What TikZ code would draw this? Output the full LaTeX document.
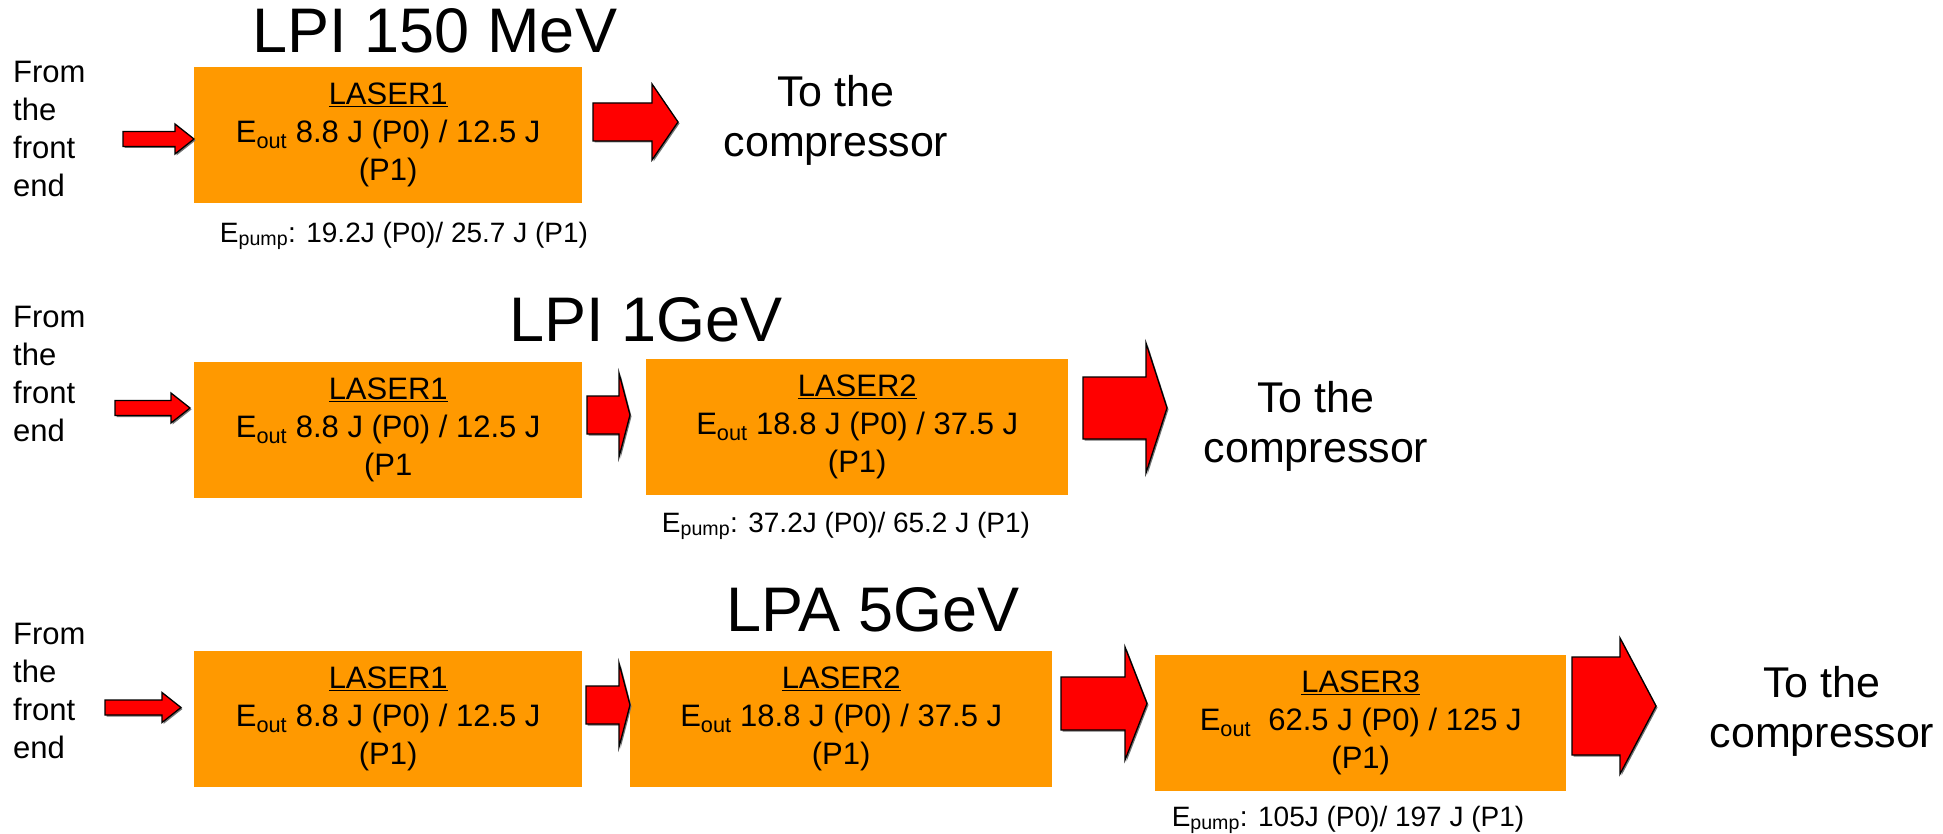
\documentclass[tikz,border=0pt]{standalone}
\usepackage{fontspec}
\setmainfont{Liberation Sans}
\definecolor{boxorange}{HTML}{FF9900}
\definecolor{arrred}{HTML}{FF0000}
% #1 x start, #2 head start, #3 tip, #4 y centre, #5 shaft half height, #6 head half height
\newcommand{\blockarrow}[6]{%
  \fill[arrshadow] ({#1+1.5},{#4-#5+1.5}) -- ({#2+1.5},{#4-#5+1.5}) -- ({#2+1.5},{#4-#6+1.5}) -- ({#3+1.5},{#4+1.5}) -- ({#2+1.5},{#4+#6+1.5}) -- ({#2+1.5},{#4+#5+1.5}) -- ({#1+1.5},{#4+#5+1.5}) -- cycle;
  \filldraw[blockarr] ({#1},{#4-#5}) -- ({#2},{#4-#5}) -- ({#2},{#4-#6}) -- ({#3},{#4}) -- ({#2},{#4+#6}) -- ({#2},{#4+#5}) -- ({#1},{#4+#5}) -- cycle;}
\begin{document}
\begin{tikzpicture}[x=1pt,y=-1pt,
  lbox/.style={fill=boxorange, draw=none, inner sep=0pt, anchor=north west, align=center,
    font=\fontsize{31}{38}\selectfont},
  blockarr/.style={fill=arrred, draw=black, line width=1.3pt, line join=miter},
  arrshadow/.style={fill=black!55},
  title/.style={inner sep=0pt, font=\fontsize{63}{70}\selectfont},
  fromtxt/.style={inner sep=0pt, anchor=west, align=left, font=\fontsize{31}{38}\selectfont},
  totxt/.style={inner sep=0pt, align=center, font=\fontsize{43}{50}\selectfont},
  pump/.style={inner sep=0pt, font=\fontsize{28}{32}\selectfont}]
\useasboundingbox (0,0) rectangle (1943,834);
\fill[white] (0,0) rectangle (1943,834);

% ---------- Row 1 : LPI 150 MeV ----------
\node[title] (t1) at (435,30.5) {LPI 150 MeV};
\node[fromtxt] (f1) at (13,129) {From\\the\\front\\end};
\node[lbox, minimum width=388pt, minimum height=136pt] (r1a) at (194,67)
  {\underline{LASER1}\\E\textsubscript{out} 8.8 J (P0) / 12.5 J\\(P1)};
\node[pump] (p1) at (404,236) {E\textsubscript{pump}: 19.2J (P0)/ 25.7 J (P1)};
\node[totxt] (c1) at (836,120) {To the\\compressor};
\blockarrow{123}{175}{194}{139}{7.5}{15}
\blockarrow{593}{652}{678}{122}{19}{38}

% ---------- Row 2 : LPI 1GeV ----------
\node[title] (t2) at (646,320) {LPI 1GeV};
\node[fromtxt] (f2) at (13,374) {From\\the\\front\\end};
\node[lbox, minimum width=388pt, minimum height=136pt] (r2a) at (194,362)
  {\underline{LASER1}\\E\textsubscript{out} 8.8 J (P0) / 12.5 J\\(P1};
\node[lbox, minimum width=422pt, minimum height=136pt] (r2b) at (646,359)
  {\underline{LASER2}\\E\textsubscript{out} 18.8 J (P0) / 37.5 J\\(P1)};
\node[pump] (p2) at (846,526) {E\textsubscript{pump}: 37.2J (P0)/ 65.2 J (P1)};
\node[totxt] (c2) at (1316,426) {To the\\compressor};
\blockarrow{115}{171}{190}{408}{7.5}{15}
\blockarrow{587}{619}{630}{415}{19}{42}
\blockarrow{1083}{1146}{1167}{408}{31}{65}

% ---------- Row 3 : LPA 5GeV ----------
\node[title] (t3) at (873,609.5) {LPA 5GeV};
\node[fromtxt] (f3) at (13,691) {From\\the\\front\\end};
\node[lbox, minimum width=388pt, minimum height=136pt] (r3a) at (194,651)
  {\underline{LASER1}\\E\textsubscript{out} 8.8 J (P0) / 12.5 J\\(P1)};
\node[lbox, minimum width=422pt, minimum height=136pt] (r3b) at (630,651)
  {\underline{LASER2}\\E\textsubscript{out} 18.8 J (P0) / 37.5 J\\(P1)};
\node[lbox, minimum width=411pt, minimum height=136pt] (r3c) at (1155,655)
  {\underline{LASER3}\\E\textsubscript{out}~ 62.5 J (P0) / 125 J\\(P1)};
\node[pump] (p3) at (1348,820) {E\textsubscript{pump}: 105J (P0)/ 197 J (P1)};
\node[totxt] (c3) at (1822,711.5) {To the\\compressor};
\blockarrow{105}{162}{181}{707.5}{7.5}{15}
\blockarrow{586}{619}{630}{705}{19}{42}
\blockarrow{1061}{1125}{1147}{703.5}{26.5}{56.5}
\blockarrow{1572}{1620}{1656}{706}{49}{68}
\end{tikzpicture}
\end{document}
